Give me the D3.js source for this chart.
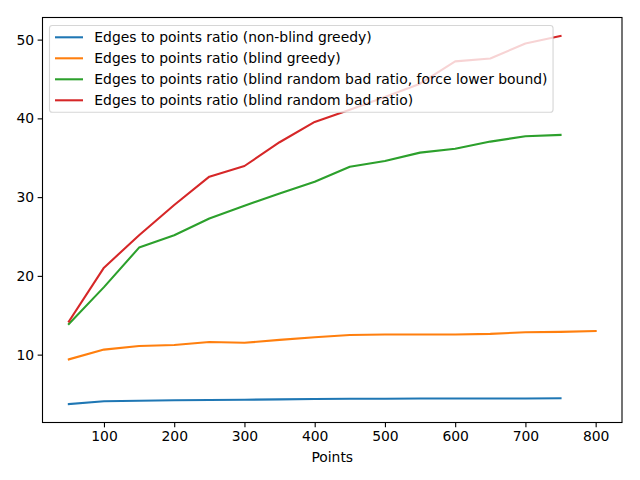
<!DOCTYPE html>
<html>
<head>
<meta charset="utf-8">
<script src="https://cdn.jsdelivr.net/npm/d3@7"></script>
<style>
html,body{margin:0;padding:0;background:#fff;}
svg{display:block;font-family:"DejaVu Sans",sans-serif;}
</style>
</head>
<body>
<svg id="chart" width="640" height="480"></svg>
<script>
const pointsA = [50,100,150,200,250,300,350,400,450,500,550,600,650,700,750];
const pointsB = [50,100,150,200,250,300,350,400,450,500,550,600,650,700,750,800];
const nonBlindGreedy = [3.72,4.08,4.14,4.2,4.25,4.27,4.32,4.36,4.39,4.4,4.42,4.42,4.42,4.43,4.46];
const blindGreedy = [9.4,10.64,11.1,11.23,11.6,11.5,11.87,12.2,12.5,12.55,12.55,12.55,12.64,12.84,12.89,13.0];
const blindRandomForce = [13.9,18.57,23.59,25.16,27.28,28.9,30.47,31.95,33.86,34.59,35.65,36.15,37.05,37.73,37.9];
const blindRandom = [14.2,21.04,25.16,29.0,32.6,33.95,36.97,39.55,41.1,42.7,44.4,47.24,47.6,49.5,50.47];
const seriesLabels = [
  "Edges to points ratio (non-blind greedy)",
  "Edges to points ratio (blind greedy)",
  "Edges to points ratio (blind random bad ratio, force lower bound)",
  "Edges to points ratio (blind random bad ratio)"
];
const colors = ["#1f77b4","#ff7f0e","#2ca02c","#d62728"];
const xTicks = [100,200,300,400,500,600,700,800];
const yTicks = [10,20,30,40,50];
const xLabel = "Points";

const series = [
  {x: pointsA, y: nonBlindGreedy},
  {x: pointsB, y: blindGreedy},
  {x: pointsA, y: blindRandomForce},
  {x: pointsA, y: blindRandom}
];

const svg = d3.select("#chart");
const L = 42.5, R = 622, T = 17.5, B = 422.5;
const fs = 13.9;

const allX = series.flatMap(s => s.x), allY = series.flatMap(s => s.y);
const [xmin, xmax] = d3.extent(allX), [ymin, ymax] = d3.extent(allY);
const xpad = (xmax - xmin) * 0.05, ypad = (ymax - ymin) * 0.05;
const x = d3.scaleLinear().domain([xmin - xpad, xmax + xpad]).range([L, R]);
const y = d3.scaleLinear().domain([ymin - ypad, ymax + ypad]).range([B, T]);

const clip = svg.append("clipPath").attr("id","clip").append("rect")
  .attr("x", L).attr("y", T).attr("width", R - L).attr("height", B - T);

const line = d3.line().x(d => x(d[0])).y(d => y(d[1]));
const g = svg.append("g").attr("clip-path","url(#clip)");
series.forEach((s, i) => {
  g.append("path")
    .datum(s.x.map((v, j) => [v, s.y[j]]))
    .attr("d", line)
    .attr("fill","none")
    .attr("stroke", colors[i])
    .attr("stroke-width", 2.08)
    .attr("stroke-linejoin","round")
    .attr("stroke-linecap","square");
});

// axes
const xAxis = d3.axisBottom(x).tickValues(xTicks).tickSize(4.86).tickPadding(3.5).tickFormat(d3.format("d"));
const yAxis = d3.axisLeft(y).tickValues(yTicks).tickSize(4.86).tickPadding(3.5).tickFormat(d3.format("d"));
const gx = svg.append("g").attr("transform", `translate(0,${B})`).call(xAxis);
const gy = svg.append("g").attr("transform", `translate(${L},0)`).call(yAxis);
[gx, gy].forEach(a => {
  a.select(".domain").remove();
  a.selectAll(".tick line").attr("stroke","#000").attr("stroke-width",1.1);
  a.selectAll(".tick text").attr("fill","#000").style("font-size", fs + "px").style("font-family","DejaVu Sans");
});

// spines
svg.append("rect").attr("x", L).attr("y", T).attr("width", R - L).attr("height", B - T)
  .attr("fill","none").attr("stroke","#000").attr("stroke-width",1.1);

// x label
svg.append("text").attr("x", (L + R) / 2).attr("y", 462)
  .attr("text-anchor","middle").style("font-size", fs + "px").attr("fill","#000").text(xLabel);

// legend
const lg = svg.append("g");
const lgX = 49.5, lgY = 25.5, rowH = 21;
const box = lg.append("rect").attr("x", lgX).attr("y", lgY).attr("rx", 2.8).attr("ry", 2.8)
  .attr("fill","#fff").attr("fill-opacity",0.8).attr("stroke","#cccccc").attr("stroke-opacity",0.8).attr("stroke-width",1.1);
let maxW = 0;
seriesLabels.forEach((lab, i) => {
  const cy = 37.3 + i * rowH;
  lg.append("line").attr("x1", 55).attr("x2", 83).attr("y1", cy).attr("y2", cy)
    .attr("stroke", colors[i]).attr("stroke-width", 2.08);
  const t = lg.append("text").attr("x", 94.3).attr("y", cy).attr("dy","0.35em")
    .style("font-size", fs + "px").attr("fill","#000").text(lab);
  maxW = Math.max(maxW, t.node().getComputedTextLength());
});
box.attr("width", 94.3 + maxW + 5.6 - lgX).attr("height", 37.3 + 3 * rowH + 12 - lgY);
</script>
</body>
</html>
